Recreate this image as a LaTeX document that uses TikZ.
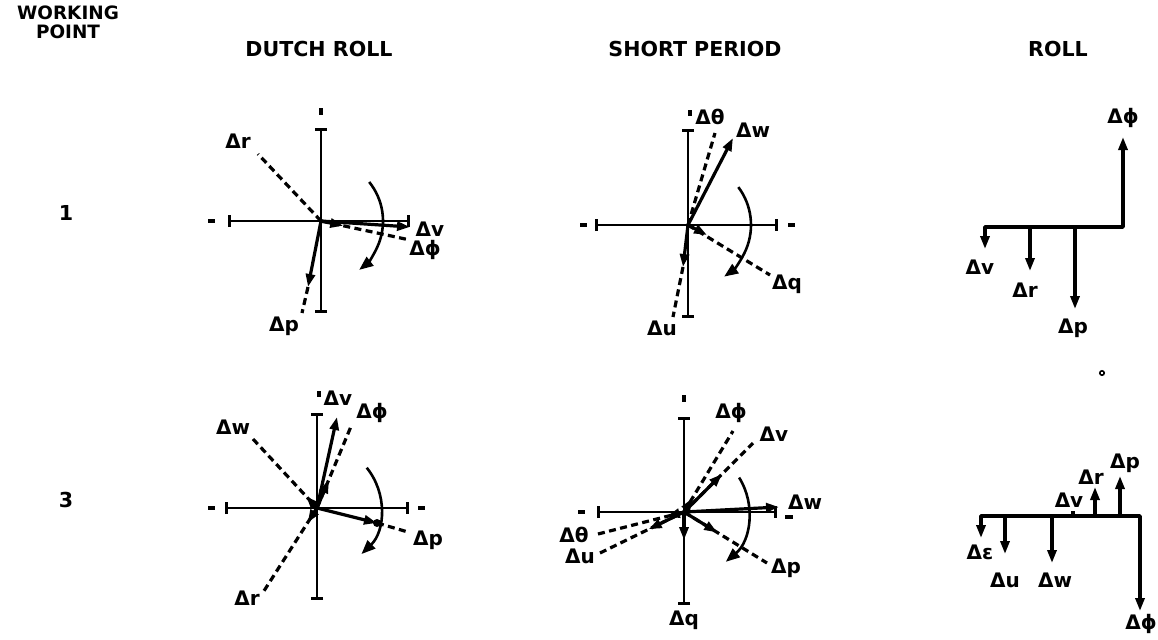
\documentclass[tikz,border=0pt]{standalone}
\usepackage{fontspec}
\setmainfont{DejaVu Sans}
\usetikzlibrary{arrows.meta,calc}
\begin{document}
\begin{tikzpicture}[x=0.5pt,y=-0.5pt,
  tk/.style={line width=1.2pt,{Bar[width=6pt,line width=1.4pt]}-{Bar[width=6pt,line width=1.4pt]}},
  mk/.style={line width=1.8pt},
  vec/.style={line width=1.6pt,-{Triangle[length=6.5pt,width=4.5pt]}},
  dl/.style={line width=1.6pt,dash pattern=on 3.5pt off 2.2pt},
  rot/.style={line width=1.3pt,-{Triangle[length=7pt,width=5.5pt]}},
  rl/.style={line width=1.9pt,line join=round},
  lbl/.style={font=\bfseries\fontsize{10}{11}\selectfont,inner sep=0pt},
  hdr/.style={font=\bfseries\fontsize{10.3}{11}\selectfont,inner sep=0pt},
  whd/.style={font=\bfseries\fontsize{9.2}{10}\selectfont,inner sep=0pt}
]
\fill[white] (0,0) rectangle (1158,639);
\useasboundingbox (0,0) rectangle (1158,639);

% headers
\node[whd] (hw) at (68,13) {WORKING};
\node[whd] (hp) at (68,32) {POINT};
\node[hdr] (hdr1) at (319,49) {DUTCH ROLL};
\node[hdr] (hdr2) at (695,49) {SHORT PERIOD};
\node[hdr] (hdr3) at (1058,49) {ROLL};
\node[hdr] (row1) at (66,213) {1};
\node[hdr] (row3) at (66,500) {3};

% ---------- Dutch roll, point 1 ----------
\coordinate (aO) at (321,221);
\coordinate (aL) at (228,221); \coordinate (aR) at (410,221);
\coordinate (aT) at (321,128); \coordinate (aB) at (321,313);
\draw[tk] (aL) -- (aR); \draw[tk] (aT) -- (aB);
\draw[mk] (208,221) -- (215,221); \draw[mk] (321,108) -- (321,115);
\node[lbl] (ar) at (238,141) {Δr};
\coordinate (arE) at (258,154);
\draw[dl] (aO) -- (arE);
\node[lbl] (av) at (430,229) {Δv};
\coordinate (avE) at (410,227);
\draw[vec] (aO) -- (avE);
\node[lbl] (aphi) at (425,250) {Δϕ};
\coordinate (aphiE) at (410,240);
\draw[dl] (aO) -- (aphiE);
\draw[vec] (aO) -- ($(aO)!0.25!(aphiE)$);
\node[lbl] (ap) at (284,326) {Δp};
\coordinate (apM) at (308,287); \coordinate (apE) at (302,313);
\draw[vec] (aO) -- (apM); \draw[dl] (apM) -- (apE);
\draw[rot] ($(aO)+(-39:62)$) arc[start angle=-39,end angle=52,radius=62];

% ---------- Short period, point 1 ----------
\coordinate (bO) at (688,225);
\coordinate (bL) at (595,225); \coordinate (bR) at (778,225);
\coordinate (bT) at (688,129); \coordinate (bB) at (688,318);
\draw[tk] (bL) -- (bR); \draw[tk] (bT) -- (bB);
\draw[mk] (580,225) -- (587,225); \draw[mk] (788,225) -- (795,225);
\draw[mk] (690,110) -- (690,116);
\node[lbl] (bth) at (710,117) {Δθ};
\coordinate (bthE) at (715,133);
\draw[dl] (bO) -- (bthE);
\node[lbl] (bw) at (753,130) {Δw};
\coordinate (bwE) at (733,138);
\draw[vec] (bO) -- (bwE);
\node[lbl] (bq) at (787,284) {Δq};
\coordinate (bqE) at (770,275); \coordinate (bqS) at (707,235);
\draw[dl] (bO) -- (bqE); \draw[vec] (bO) -- (bqS);
\node[lbl] (bu) at (662,328) {Δu};
\coordinate (buM) at (683,267); \coordinate (buE) at (673,317);
\draw[vec] (bO) -- (buM); \draw[dl] (buM) -- (buE);
\draw[rot] ($(bO)+(-37:63)$) arc[start angle=-37,end angle=55,radius=63];

% ---------- Roll, point 1 ----------
\coordinate (cA) at (985,227); \coordinate (cB) at (1123,227);
\coordinate (cvE) at (985,249); \coordinate (cphiE) at (1123,137);
\draw[rl,{Triangle[length=6.5pt,width=4.5pt]}-{Triangle[length=6.5pt,width=4.5pt]}] (cvE) -- (cA) -- (cB) -- (cphiE);
\node[lbl] (cphi) at (1123,118) {Δϕ};
\node[lbl] (cv) at (980,267) {Δv};
\coordinate (cr0) at (1030,227); \coordinate (crE) at (1030,271);
\draw[vec] (cr0) -- (crE);
\node[lbl] (cr) at (1025,290) {Δr};
\coordinate (cp0) at (1075,227); \coordinate (cpE) at (1075,309);
\draw[vec] (cp0) -- (cpE);
\node[lbl] (cp) at (1073,328) {Δp};

% ---------- Dutch roll, point 3 ----------
\coordinate (dO) at (317,508);
\coordinate (dL) at (225,508); \coordinate (dR) at (409,508);
\coordinate (dT) at (317,413); \coordinate (dB) at (317,600);
\draw[tk] (dL) -- (dR); \draw[tk] (dT) -- (dB);
\draw[mk] (208,508) -- (215,508); \draw[mk] (418,508) -- (425,508);
\draw[mk] (319,391) -- (319,397);
\node[lbl] (dv) at (338,398) {Δv};
\coordinate (dvE) at (337,417);
\draw[vec] (dO) -- (dvE);
\node[lbl] (dphi) at (372,413) {Δϕ};
\coordinate (dphiE) at (352,424);
\draw[dl] (dO) -- (dphiE);
\draw[vec] (dO) -- ($(dO)!0.33!(dphiE)$);
\node[lbl] (dw) at (233,427) {Δw};
\coordinate (dwE) at (253,439);
\draw[dl] (dwE) -- (dO);
\draw[vec] (dO) -- ($(dO)!0.17!(dwE)$);
\node[lbl] (dp) at (428,540) {Δp};
\coordinate (dpM) at (377,523); \coordinate (dpE) at (408,532);
\draw[vec] (dO) -- (dpM); \draw[dl] (dpM) -- (dpE);
\fill (dpM) circle[radius=4];
\node[lbl] (dr) at (247,598) {Δr};
\coordinate (drE) at (262,594);
\draw[dl] (dO) -- (drE);
\draw[vec] (dO) -- ($(dO)!0.17!(drE)$);
\draw[rot] ($(dO)+(-39:64)$) arc[start angle=-39,end angle=46,radius=64];

% ---------- Short period, point 3 ----------
\coordinate (eO) at (684,512);
\coordinate (eL) at (597,512); \coordinate (eR) at (777,512);
\coordinate (eT) at (684,417); \coordinate (eB) at (684,605);
\draw[tk] (eL) -- (eR); \draw[tk] (eT) -- (eB);
\draw[mk] (578,512) -- (585,512); \draw[mk] (785,517) -- (793,517);
\draw[mk] (684,395) -- (684,402);
\node[lbl] (eq) at (684,620) {Δq};
\draw[vec] (eO) -- (684,540);
\node[lbl] (ephi) at (731,413) {Δϕ};
\coordinate (ephiE) at (733,431);
\draw[dl] (eO) -- (ephiE);
\draw[vec] (eO) -- ($(eO)!0.17!(ephiE)$);
\node[lbl] (ev) at (774,434) {Δv};
\coordinate (evE) at (753,443);
\draw[dl] (eO) -- (evE);
\draw[vec] (eO) -- ($(eO)!0.55!(evE)$);
\node[lbl] (ew) at (805,502) {Δw};
\coordinate (ewE) at (779,507);
\draw[vec] (eO) -- (ewE);
\node[lbl] (eth) at (574,535) {Δθ};
\coordinate (ethE) at (598,534);
\draw[dl] (ethE) -- (eO);
\draw[vec] (eO) -- ($(eO)!0.2!(ethE)$);
\node[lbl] (eu) at (580,556) {Δu};
\coordinate (euE) at (600,553);
\draw[dl] (euE) -- (eO);
\draw[vec] (eO) -- ($(eO)!0.42!(euE)$);
\node[lbl] (ep) at (786,568) {Δp};
\coordinate (epE) at (767,563);
\draw[dl] (eO) -- (epE);
\draw[vec] (eO) -- ($(eO)!0.4!(epE)$);
\draw[rot] ($(eO)+(-32:65)$) arc[start angle=-32,end angle=50,radius=65];

% ---------- Roll, point 3 ----------
\draw[line width=0.8pt] (1102,373) circle[radius=2.2];
\coordinate (fA) at (981,516); \coordinate (fB) at (1140,516);
\coordinate (feE) at (981,538); \coordinate (fphiE) at (1140,611);
\draw[rl,{Triangle[length=6.5pt,width=4.5pt]}-{Triangle[length=6.5pt,width=4.5pt]}] (feE) -- (fA) -- (fB) -- (fphiE);
\node[lbl] (fe) at (980,552) {Δε};
\node[lbl] (fphi) at (1141,624) {Δϕ};
\coordinate (fu0) at (1005,516); \coordinate (fuE) at (1005,554);
\draw[vec] (fu0) -- (fuE);
\node[lbl] (fu) at (1005,580) {Δu};
\coordinate (fw0) at (1052,516); \coordinate (fwE) at (1052,563);
\draw[vec] (fw0) -- (fwE);
\node[lbl] (fw) at (1055,580) {Δw};
\coordinate (fv0) at (1073,516); \coordinate (fvE) at (1073,511);
\draw[line width=1.6pt] (fv0) -- (fvE);
\node[lbl] (fv) at (1069,500) {Δv};
\coordinate (fr0) at (1095,516); \coordinate (frE) at (1095,487);
\draw[vec] (fr0) -- (frE);
\node[lbl] (fr) at (1091,477) {Δr};
\coordinate (fp0) at (1120,516); \coordinate (fpE) at (1120,476);
\draw[vec] (fp0) -- (fpE);
\node[lbl] (fp) at (1125,463) {Δp};
\end{tikzpicture}
\end{document}
